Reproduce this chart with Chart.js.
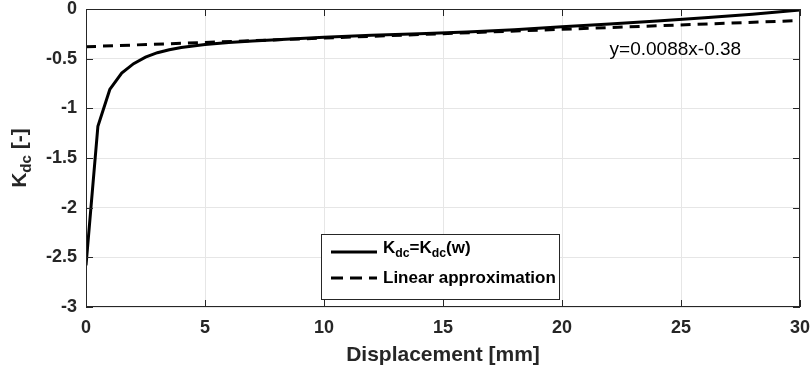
<!DOCTYPE html>
<html>
<head>
<meta charset="utf-8">
<script src="https://cdn.jsdelivr.net/npm/chart.js@4"></script>
<style>
  html, body { margin: 0; padding: 0; background: #fff; }
  #wrap { width: 810px; height: 376px; }
</style>
</head>
<body>
<div id="wrap"><canvas id="kdc"></canvas></div>
<script>
// valeurs
const displacement = [0, 0.5, 1, 1.5, 2, 2.5, 3, 3.5, 4, 5, 6, 7, 8, 10, 12, 14, 16, 18, 20, 22, 24, 26, 28, 30];
const kdc = [-2.58, -1.18, -0.81, -0.645, -0.55, -0.485, -0.44, -0.41, -0.387, -0.357, -0.337, -0.322, -0.31,
  -0.285, -0.265, -0.248, -0.232, -0.208, -0.178, -0.15, -0.12, -0.088, -0.052, -0.01];
// approximation lineaire y=0.0088x-0.38
const linX = [0, 30];
const linY = [-0.38, -0.116];
const xTicks = [0, 5, 10, 15, 20, 25, 30];
const yTicks = [0, -0.5, -1, -1.5, -2, -2.5, -3];

const FONT = '"Liberation Sans", Arial, sans-serif';

// texte avec indices "dc"
function drawSubText(ctx, parts, x, y, size) {
  let cx = x;
  parts.forEach(p => {
    const s = p.sub ? size * 0.72 : size;
    ctx.font = 'bold ' + s + 'px ' + FONT;
    ctx.fillText(p.t, cx, p.sub ? y + size * 0.32 : y);
    cx += ctx.measureText(p.t).width;
  });
  return cx;
}

const decor = {
  id: 'decor',
  afterDraw(chart) {
    const ctx = chart.ctx;
    const a = chart.chartArea;
    const xs = chart.scales.x, ys = chart.scales.y;
    ctx.save();
    // cadre et graduations interieures
    ctx.strokeStyle = '#262626';
    ctx.lineWidth = 1;
    ctx.strokeRect(a.left + 0.5, a.top + 0.5, a.right - a.left - 1, a.bottom - a.top - 1);
    ctx.beginPath();
    xTicks.forEach(v => {
      const px = Math.round(xs.getPixelForValue(v)) + 0.5;
      ctx.moveTo(px, a.bottom); ctx.lineTo(px, a.bottom - 7);
      ctx.moveTo(px, a.top); ctx.lineTo(px, a.top + 7);
    });
    yTicks.forEach(v => {
      const py = Math.round(ys.getPixelForValue(v)) + 0.5;
      ctx.moveTo(a.left, py); ctx.lineTo(a.left + 7, py);
      ctx.moveTo(a.right, py); ctx.lineTo(a.right - 7, py);
    });
    ctx.stroke();

    // equation
    ctx.fillStyle = '#000';
    ctx.font = '19px ' + FONT;
    ctx.textBaseline = 'middle';
    ctx.textAlign = 'left';
    ctx.fillText('y=0.0088x-0.38', xs.getPixelForValue(22.0), ys.getPixelForValue(-0.41));

    // titre axe y
    ctx.save();
    ctx.translate(23, 158);
    ctx.rotate(-Math.PI / 2);
    ctx.fillStyle = '#262626';
    ctx.textBaseline = 'middle';
    const parts = [{ t: 'K' }, { t: 'dc', sub: true }, { t: ' [-]' }];
    let w = 0;
    parts.forEach(p => {
      ctx.font = 'bold ' + (p.sub ? 21 * 0.72 : 21) + 'px ' + FONT;
      w += ctx.measureText(p.t).width;
    });
    drawSubText(ctx, parts, -w / 2, -3, 21);
    ctx.restore();

    // legende
    const lx = 321, ly = 234, lw = 238, lh = 65;
    ctx.fillStyle = '#fff';
    ctx.fillRect(lx, ly, lw, lh);
    ctx.strokeStyle = '#262626';
    ctx.lineWidth = 1;
    ctx.strokeRect(lx + 0.5, ly + 0.5, lw, lh);
    ctx.strokeStyle = '#000';
    ctx.lineWidth = 3;
    ctx.beginPath();
    ctx.moveTo(331, 252); ctx.lineTo(377, 252);
    ctx.stroke();
    ctx.setLineDash([12, 7]);
    ctx.beginPath();
    ctx.moveTo(331, 278); ctx.lineTo(377, 278);
    ctx.stroke();
    ctx.setLineDash([]);
    ctx.fillStyle = '#000';
    ctx.textBaseline = 'middle';
    drawSubText(ctx, [{ t: 'K' }, { t: 'dc', sub: true }, { t: '=K' }, { t: 'dc', sub: true }, { t: '(w)' }], 383, 248, 17);
    ctx.font = 'bold 17px ' + FONT;
    ctx.fillText('Linear approximation', 383, 278);
    ctx.restore();
  }
};

const config = {
  type: 'scatter',
  data: {
    datasets: [
      {
        label: 'Kdc',
        data: displacement.map((x, i) => ({ x: x, y: kdc[i] })),
        showLine: true,
        borderColor: '#000',
        borderWidth: 3,
        pointRadius: 0,
        tension: 0,
      },
      {
        label: 'Linear approximation',
        data: linX.map((x, i) => ({ x: x, y: linY[i] })),
        showLine: true,
        borderColor: '#000',
        borderWidth: 3,
        borderDash: [10, 7],
        pointRadius: 0,
      },
    ],
  },
  options: {
    responsive: true,
    maintainAspectRatio: false,
    animation: false,
    layout: { padding: 0 },
    plugins: { legend: { display: false }, tooltip: { enabled: false } },
    scales: {
      x: {
        type: 'linear',
        min: 0, max: 30,
        afterBuildTicks: s => { s.ticks = xTicks.map(v => ({ value: v })); },
        afterFit: s => { s.height = 69; s.paddingLeft = 0; s.paddingRight = 10; },
        grid: { color: '#e6e6e6', drawTicks: false },
        border: { display: false },
        ticks: { color: '#262626', padding: 10, maxRotation: 0, font: { family: FONT, size: 18, weight: 'bold' } },
        title: { display: true, text: 'Displacement [mm]', color: '#262626', padding: { top: 0, bottom: 8 }, font: { family: FONT, size: 21, weight: 'bold' } },
      },
      y: {
        min: -3, max: 0,
        afterBuildTicks: s => { s.ticks = yTicks.map(v => ({ value: v })); },
        afterFit: s => { s.width = 86; s.paddingTop = 9; s.paddingBottom = 0; },
        grid: { color: '#e6e6e6', drawTicks: false },
        border: { display: false },
        ticks: {
          color: '#262626', padding: 9,
          font: { family: FONT, size: 18, weight: 'bold' },
          callback: v => String(v),
        },
      },
    },
  },
  plugins: [decor],
};

new Chart(document.getElementById('kdc'), config);
</script>
</body>
</html>
